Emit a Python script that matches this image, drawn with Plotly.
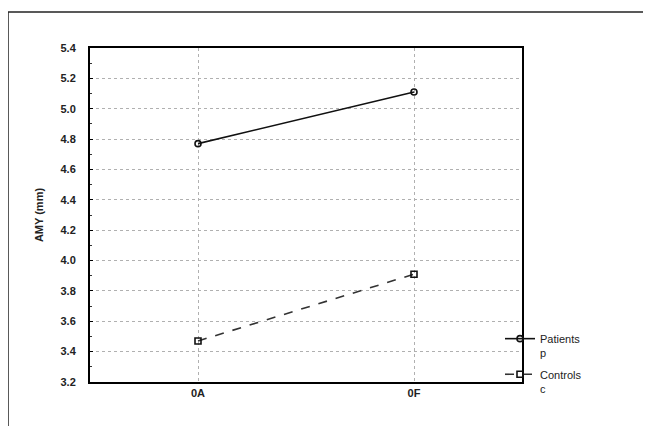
import plotly.graph_objects as go

categories = ["0A", "0F"]
patients = [4.77, 5.11]
controls = [3.47, 3.91]
series_names = ["Patients<br>p", "Controls<br>c"]
y_title = "AMY (mm)"
y_ticks = [3.2, 3.4, 3.6, 3.8, 4.0, 4.2, 4.4, 4.6, 4.8, 5.0, 5.2, 5.4]

W, H = 651, 426
OFF = 8  # page body margin offset
L, R, T, B = 90 - OFF, 129 + OFF, 48 - OFF, 44 + OFF
pw, ph = W - L - R, H - T - B

fig = go.Figure()
fig.add_trace(go.Scatter(
    x=categories, y=patients, name=series_names[0], mode="lines+markers",
    legendgroup="p",
    line=dict(color="#111111", width=1.6),
    marker=dict(symbol="circle-open", size=6, color="#111111", line=dict(width=1.6)),
))
fig.add_trace(go.Scatter(
    x=categories, y=controls, name=series_names[1], mode="lines+markers",
    legendgroup="c",
    line=dict(color="#333333", width=1.6, dash="dash"),
    marker=dict(symbol="square-open", size=6, color="#111111", line=dict(width=1.6)),
))

bold = dict(family="Liberation Sans, Arial, sans-serif", size=11, color="#222222", weight="bold")

def py(y):
    return (H - B - (y - OFF)) / ph

def px(x):
    return ((x - OFF) - L) / pw

fig.update_layout(
    width=W, height=H,
    margin=dict(l=L, r=R, t=T, b=B),
    paper_bgcolor="white", plot_bgcolor="white",
    showlegend=True,
    legend=dict(
        x=px(500), y=py(325), xanchor="left", yanchor="top",
        font=dict(family="Liberation Sans, Arial, sans-serif", size=11, color="#222222"),
        itemwidth=30, tracegroupgap=4, valign="top", bgcolor="rgba(0,0,0,0)",
    ),
    xaxis=dict(
        type="category", range=[-0.5, 1.5],
        showline=True, linecolor="black", linewidth=2, mirror=True,
        showgrid=True, gridcolor="#b0b0b0", griddash="dot", gridwidth=1,
        ticks="", tickfont=bold, zeroline=False,
    ),
    yaxis=dict(
        range=[3.2, 5.4], tickvals=y_ticks, tickformat=".1f",
        showline=True, linecolor="black", linewidth=2, mirror=True,
        showgrid=True, gridcolor="#b0b0b0", griddash="dot", gridwidth=1,
        ticks="inside", ticklen=3, tickcolor="black",
        minor=dict(ticks="inside", dtick=0.1, ticklen=2, tickcolor="#333333", showgrid=False),
        tickfont=bold, zeroline=False, ticklabelstandoff=10,
        title=dict(text=y_title, font=bold, standoff=15),
    ),
    shapes=[
        dict(type="line", xref="paper", yref="paper",
             x0=px(8), x1=px(700), y0=py(12), y1=py(12),
             line=dict(color="#222222", width=1.5)),
        dict(type="line", xref="paper", yref="paper",
             x0=px(8), x1=px(8), y0=py(12), y1=py(460),
             line=dict(color="#222222", width=1.5)),
    ],
)

fig.write_html("out.html")
